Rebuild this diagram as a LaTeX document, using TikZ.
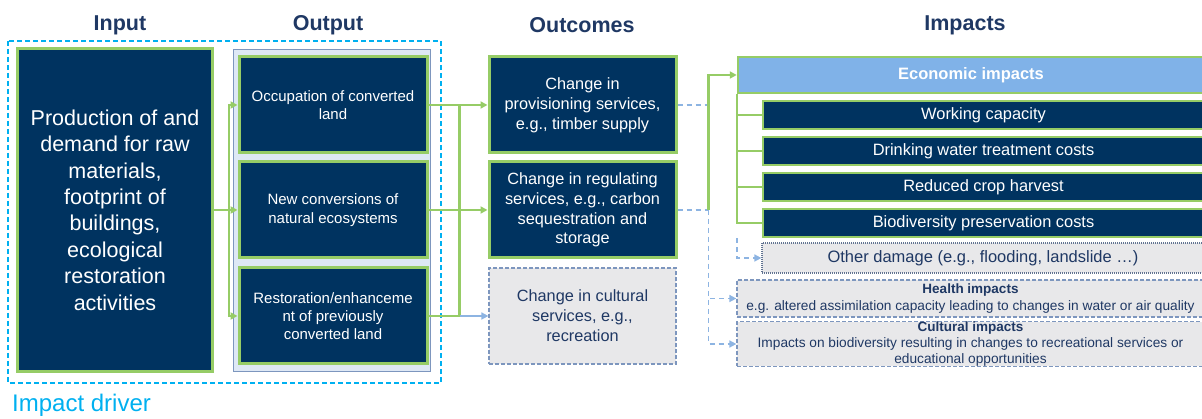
\documentclass[tikz,border=0pt]{standalone}
\usepackage{fontspec}
\setmainfont{Liberation Sans}
\usetikzlibrary{arrows.meta}
\definecolor{navy}{RGB}{0,51,96}
\definecolor{lgreen}{RGB}{150,204,102}
\definecolor{titleblue}{RGB}{31,56,100}
\definecolor{drivecyan}{RGB}{0,176,240}
\definecolor{headblue}{RGB}{128,178,232}
\definecolor{lblue}{RGB}{141,180,226}
\definecolor{bgray}{RGB}{125,150,190}
\definecolor{lgray}{RGB}{232,232,234}
\definecolor{paleblue}{RGB}{222,232,245}

\begin{document}
\begin{tikzpicture}[x=1pt,y=-1pt,>={Triangle[length=7pt,width=7pt]},
  navybox/.style={draw=lgreen,line width=3pt,fill=navy,text=white,align=center,inner sep=0pt},
  graybox/.style={draw=bgray,line width=1.2pt,dash pattern=on 4pt off 2pt,fill=lgray,text=titleblue,align=center,inner sep=0pt},
  gline/.style={draw=lgreen,line width=2.5pt},
  bline/.style={draw=lblue,line width=1.5pt},
  bdash/.style={draw=lblue,line width=1.5pt,dash pattern=on 5pt off 4pt},
  title/.style={font=\fontsize{21.5}{24}\selectfont\bfseries,text=titleblue}]
\useasboundingbox (0,0) rectangle (1202,419);
\node[title] (T-in) at (120,25) {Input};
\node[title] (T-out) at (328,25) {Output};
\node[title] (T-oc) at (582,25) {Outcomes};
\node[title] (T-im) at (965,25) {Impacts};
\draw[drivecyan,line width=2pt,dash pattern=on 5pt off 3pt] (8,41) rectangle (441,383);
\node[anchor=west,text=drivecyan,font=\fontsize{24}{28}\selectfont,inner sep=0pt] (drv) at (12,405) {Impact driver};
\draw[draw=bgray,fill=paleblue,line width=1pt] (233,50) rectangle (430,372);
\node[navybox,minimum width=195,minimum height=323,font=\fontsize{21.5}{26.4}\selectfont] (In) at (115,210)
  {Production of and\\demand for raw\\materials,\\footprint of\\buildings,\\ecological\\restoration\\activities};
\foreach \i/\y/\txt in {1/105/{Occupation of converted\\land},2/210/{New conversions of\\natural ecosystems},3/316/{Restoration/enhanceme\\nt of previously\\converted land}}
  \node[navybox,minimum width=188,minimum height=96,font=\fontsize{15}{18.3}\selectfont] (O-\i) at (333,\y) {\txt};
\node[navybox,minimum width=187,minimum height=96,font=\fontsize{16.3}{20}\selectfont] (C-1) at (582.5,105)
  {Change in\\provisioning services,\\e.g., timber supply};
\node[navybox,minimum width=187,minimum height=96,font=\fontsize{16.3}{19.7}\selectfont] (C-2) at (582.5,210)
  {Change in regulating\\services, e.g., carbon\\sequestration and\\storage};
\node[graybox,minimum width=187,minimum height=96,font=\fontsize{16.3}{20}\selectfont] (C-3) at (582.5,316)
  {Change in cultural\\services, e.g.,\\recreation};
\node[draw=lgreen,line width=2.5pt,fill=headblue,text=white,inner sep=0pt,minimum width=466,minimum height=36,font=\fontsize{16.5}{20}\selectfont\bfseries] (E) at (971,75) {Economic impacts};
\foreach \i/\txt in {1/Working capacity,2/Drinking water treatment costs,3/Reduced crop harvest,4/Biodiversity preservation costs}
  \node[navybox,line width=2.5pt,minimum width=441,minimum height=28,font=\fontsize{16.4}{20}\selectfont] (S-\i) at (983.5,79+36*\i) {\txt};
\node[graybox,dash pattern=on 1pt off 1pt,draw=titleblue!70,minimum width=442,minimum height=30,font=\fontsize{16.5}{20}\selectfont] (D) at (983,258)
  {Other damage (e.g., flooding, landslide \dots)};
\node[graybox,minimum width=467,minimum height=37,font=\fontsize{13.7}{17}\selectfont] (H) at (970.5,298.5)
  {{\fontsize{13.5}{17}\selectfont\bfseries Health impacts}\\e.g. altered assimilation capacity leading to changes in water or air quality};
\node[graybox,minimum width=467,minimum height=42,font=\fontsize{13.7}{16}\selectfont] (Cu) at (970.5,344)
  {{\fontsize{13.5}{16}\selectfont\bfseries Cultural impacts}\\Impacts on biodiversity resulting in changes to recreational services or\\educational opportunities};
\foreach \i in {1,2,3}
  \draw[gline,->] (In.east) -- ++(15,0) |- (O-\i.west);
\foreach \i in {1,2,3}{
  \coordinate (J-\i) at ([xshift=31pt]O-\i.east);
  \draw[gline] (O-\i.east) -- (J-\i);
}
\draw[gline] (J-1) -- (J-3);
\draw[gline,->] (J-1) -- (C-1.west);
\draw[gline,->] (J-2) -- (C-2.west);
\draw[bline,->] (J-3) -- (C-3.west);
\foreach \i in {1,2}{
  \coordinate (K-\i) at ([xshift=31pt]C-\i.east);
  \draw[bdash] (C-\i.east) -- (K-\i);
}
\draw[gline,->] (K-2) |- (E.west);
\draw[bdash,->] (K-2) |- (H.west);
\draw[bdash,->] (K-2) |- (Cu.west);
\foreach \i in {1,...,4}
  \draw[gline] (E.south west) |- (S-\i.west);
\draw[bdash,->] (E.south west |- S-4.south) |- (D.west);
\end{tikzpicture}
\end{document}
